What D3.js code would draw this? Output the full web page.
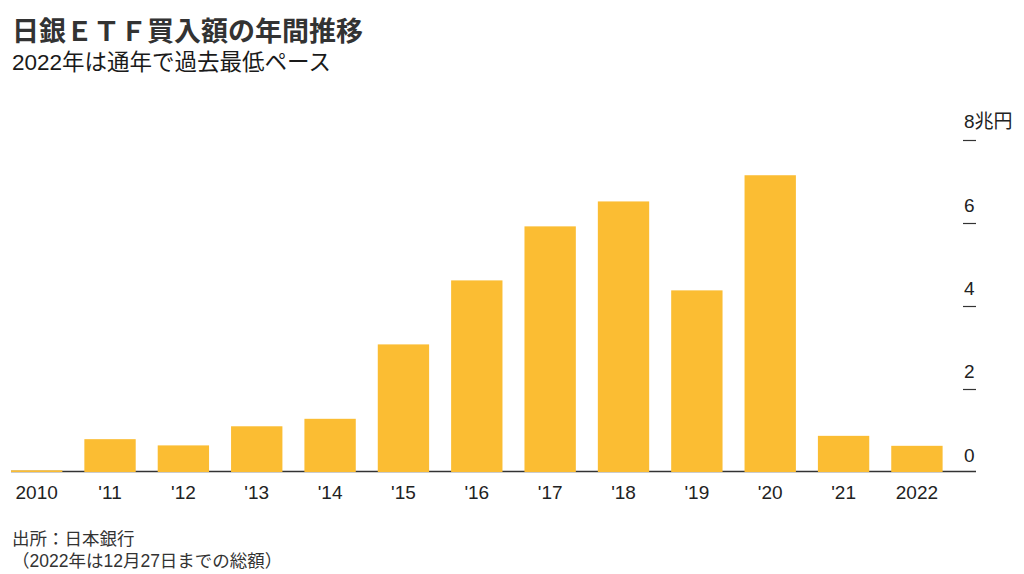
<!DOCTYPE html>
<html>
<head>
<meta charset="utf-8">
<script src="https://cdn.jsdelivr.net/npm/d3@7"></script>
<style>
  html, body { margin: 0; padding: 0; background: #fff; }
  svg { display: block; }
  text { font-family: "Liberation Sans", Arial, "Noto Sans CJK JP", sans-serif; }
</style>
</head>
<body>
<svg id="chart" width="1024" height="574"></svg>
<script>
const categories = ["2010", "'11", "'12", "'13", "'14", "'15", "'16", "'17", "'18", "'19", "'20", "'21", "2022"];
const values = [0.04, 0.79, 0.64, 1.10, 1.28, 3.07, 4.61, 5.91, 6.51, 4.37, 7.14, 0.87, 0.63];
const yTicks = [0, 2, 4, 6, 8];
const yTickLabels = ["0", "2", "4", "6", "8兆円"];
const title = "日銀ＥＴＦ買入額の年間推移";
const subtitle = "2022年は通年で過去最低ペース";
const source = ["出所：日本銀行", "（2022年は12月27日までの総額）"];

const svg = d3.select("#chart");

const x = d3.scaleBand().domain(categories).range([11, 942.6]).paddingInner(0.3).paddingOuter(0);
const y = d3.scaleLinear().domain([0, 8]).range([472, 139.5]);

// titles
svg.append("text").attr("x", 12).attr("y", 41)
  .attr("font-size", 27).attr("font-weight", "bold").attr("fill", "#333")
  .style("font-family", "'Noto Sans CJK JP', sans-serif")
  .text(title);
svg.append("text").attr("x", 12).attr("y", 70)
  .attr("font-size", 22.5).attr("fill", "#1a1a1a")
  .text(subtitle);

// baseline
svg.append("line").attr("x1", 11).attr("x2", 976).attr("y1", 471.5).attr("y2", 471.5)
  .attr("stroke", "#333").attr("stroke-width", 1.3);

// bars
svg.append("g").selectAll("rect").data(values).join("rect")
  .attr("x", (d, i) => x(categories[i]))
  .attr("width", x.bandwidth())
  .attr("y", d => y(d))
  .attr("height", d => y(0) - y(d))
  .attr("fill", "#fbbd33");

// y axis ticks + labels
const yg = svg.append("g");
yg.selectAll("line").data(yTicks.filter(d => d > 0)).join("line")
  .attr("x1", 963).attr("x2", 976)
  .attr("y1", d => Math.round(y(d)) + 0.5).attr("y2", d => Math.round(y(d)) + 0.5)
  .attr("stroke", "#333").attr("stroke-width", 1.2);
yg.selectAll("text").data(yTicks).join("text")
  .attr("x", 964)
  .attr("y", (d, i) => y(d) - (d === 8 ? 11.5 : 10.5))
  .attr("font-size", 19).attr("fill", "#222")
  .text((d, i) => yTickLabels[i]);

// x axis labels
const xAxis = d3.axisBottom(x).tickSize(0).tickPadding(0);
const xg = svg.append("g").attr("transform", "translate(0,480)").call(xAxis);
xg.select(".domain").remove();
xg.selectAll("text").attr("font-size", 19).attr("fill", "#222")
  .attr("dy", "0").attr("y", 19)
  .style("font-family", "'Liberation Sans', Arial, sans-serif");

// source note
svg.append("text").attr("x", 12).attr("y", 545)
  .attr("font-size", 17.5).attr("fill", "#333").text(source[0]);
svg.append("text").attr("x", 12).attr("y", 567)
  .attr("font-size", 17.5).attr("fill", "#333").text(source[1]);
</script>
</body>
</html>
